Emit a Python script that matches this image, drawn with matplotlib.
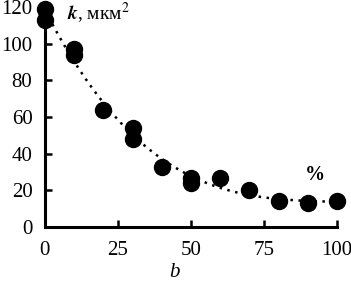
import numpy as np
import matplotlib.pyplot as plt

# dados
b = [0, 0, 10, 10, 20, 30, 30, 40, 50, 50, 60, 70, 80, 90, 100]
k = [119, 113, 97, 94, 64, 54, 48, 33, 27, 24, 27, 20, 14, 13, 14]
x_ticks = [0, 25, 50, 75, 100]
y_ticks = [0, 20, 40, 60, 80, 100, 120]

plt.rcParams['font.family'] = ['Liberation Serif', 'DejaVu Serif']
plt.rcParams['mathtext.fontset'] = 'stix'

fig = plt.figure(figsize=(3.51, 2.85), dpi=100)
ax = fig.add_axes([0.128, 0.2035, 0.832, 0.7715])

# linha de tendência (polinomial)
coef = np.polyfit(b, k, 3)
xs = np.linspace(0, 100, 200)
ax.plot(xs, np.polyval(coef, xs), color='black', linestyle=(0, (1, 2.2)), linewidth=1.8, zorder=2)

ax.plot(b, k, 'o', color='black', markersize=11.5, zorder=3, clip_on=False)

ax.set_xlim(0, 100)
ax.set_ylim(0, 120)
ax.set_xticks(x_ticks)
ax.set_yticks(y_ticks)
ax.tick_params(direction='in', length=5, width=1.8, labelsize=15)
ax.tick_params(axis='x', pad=10)
ax.tick_params(axis='y', pad=9)

for s in ['top', 'right']:
    ax.spines[s].set_visible(False)
for s in ['left', 'bottom']:
    ax.spines[s].set_linewidth(2.2)

ax.text(0.075, 0.975, r'$\boldsymbol{k}$, мкм$^2$', transform=ax.transAxes, fontsize=14,
        ha='left', va='center')
ax.text(0.925, 0.235, '%', transform=ax.transAxes, fontsize=14.5, fontweight='bold',
        ha='center', va='center')
fig.text(0.498, 0.045, 'b', fontsize=15, fontstyle='italic', ha='center', va='center')

fig.savefig('out.png', dpi=100)
